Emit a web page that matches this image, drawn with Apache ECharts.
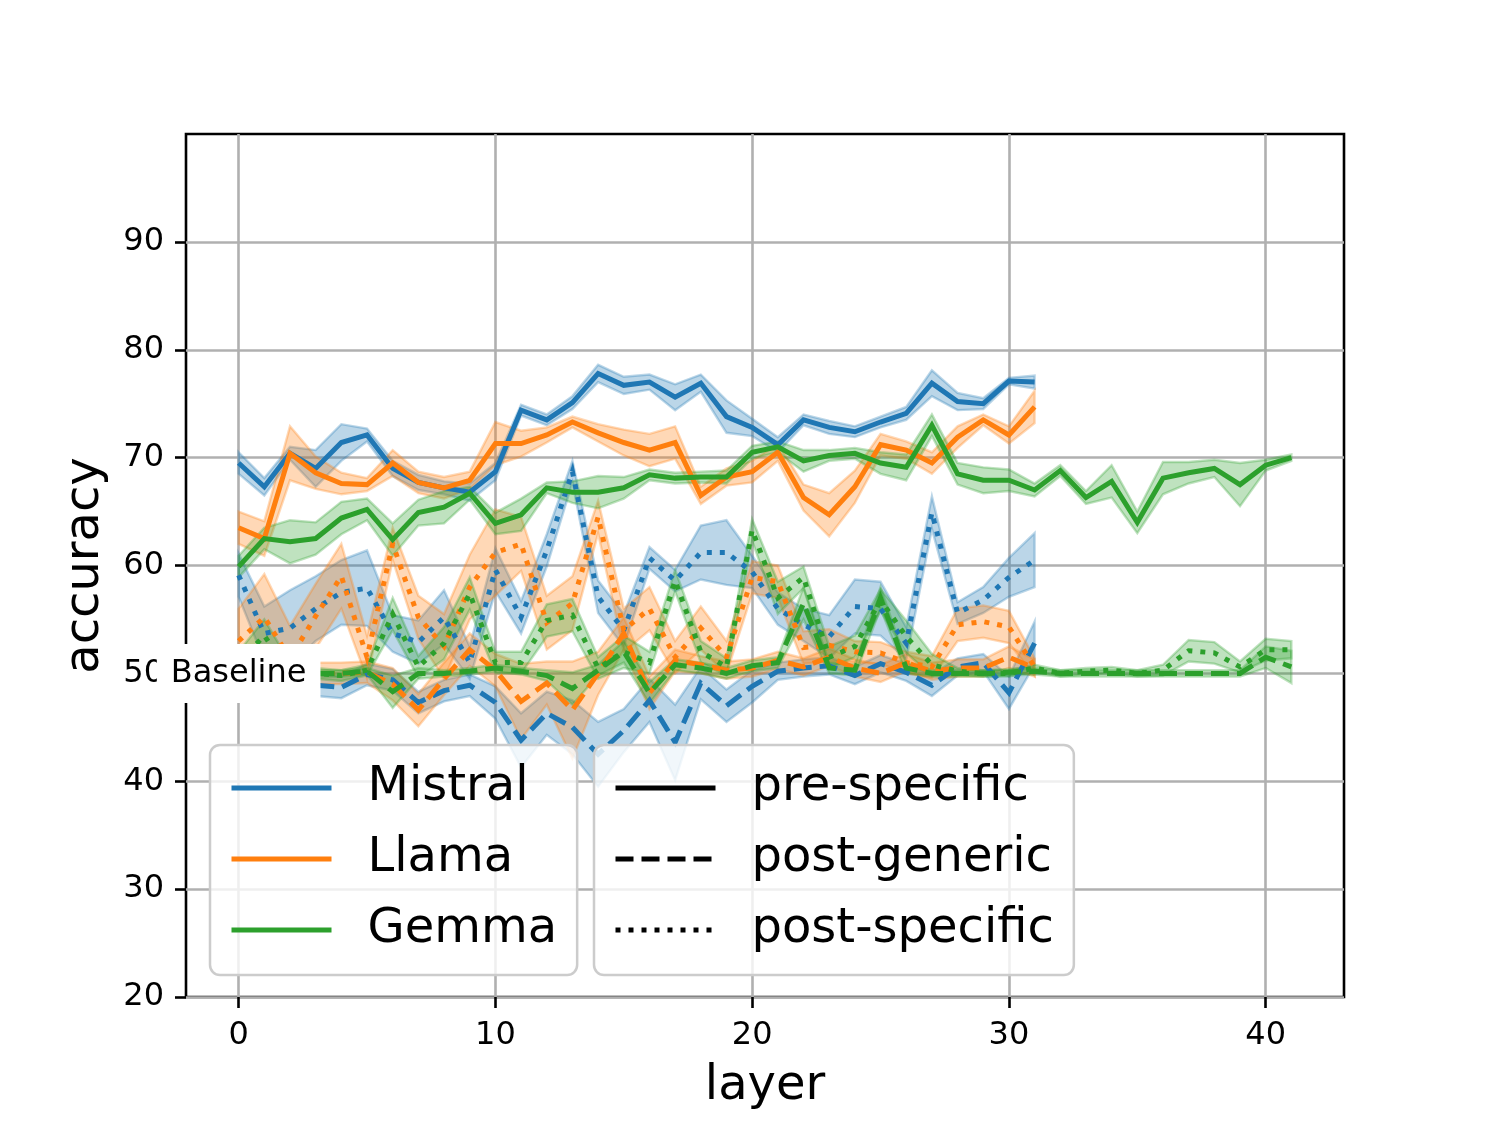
<!DOCTYPE html>
<html><head><meta charset="utf-8">
<script src="https://cdn.jsdelivr.net/npm/echarts@6/dist/echarts.min.js"></script>
<style>html,body{margin:0;padding:0;background:#fff}#c{width:1494px;height:1121px}</style>
</head><body><div id="c"></div>
<script>
// ---- data (accuracy per layer) ----
const xTicks = [0, 10, 20, 30, 40];
const yTicks = [20, 30, 40, 50, 60, 70, 80, 90];

const mistralPre = [69.5,67.3,70.4,69.0,71.4,72.1,69.0,67.7,67.2,66.8,68.7,74.4,73.5,75.1,77.8,76.7,77.0,75.6,76.9,73.8,72.8,71.2,73.5,72.8,72.4,73.3,74.1,76.9,75.2,75.0,77.1,77.0];
const mistralPreErr = [1.0,0.8,0.6,1.7,1.7,0.6,0.7,0.7,0.6,0.8,0.8,0.5,0.5,0.6,0.8,0.8,0.7,1.2,0.8,1.5,0.8,0.7,0.5,0.6,0.5,0.5,0.6,1.2,0.8,0.5,0.3,0.6];
const mistralPostGen = [49.5,49.2,49.0,48.9,48.7,49.9,49.4,47.3,48.4,48.9,47.3,43.8,46.3,45.0,42.5,44.7,47.5,43.6,49.1,47.0,48.8,50.2,50.5,50.7,49.8,50.9,50.1,48.9,50.6,51.0,48.2,52.8];
const mistralPostGenErr = [1.0,1.0,1.0,1.0,1.0,1.0,1.0,1.0,1.0,1.0,1.5,2.5,2.0,2.5,3.0,2.0,2.0,3.5,1.5,1.5,1.5,0.8,0.8,0.8,0.8,0.8,0.8,1.0,0.8,0.8,1.5,2.0];
const mistralPostSpec = [59.1,53.7,54.2,56.0,57.5,57.9,53.7,52.9,55.2,51.0,59.6,55.2,61.4,68.7,57.1,54.0,60.7,58.6,61.2,61.2,59.4,56.0,54.5,53.4,56.2,56.0,52.8,64.9,55.6,56.8,58.9,60.5];
const mistralPostSpecErr = [2.0,2.5,3.5,3.0,3.0,3.5,1.7,2.0,2.5,1.5,2.0,1.5,1.5,1.0,1.5,1.5,1.0,1.0,2.5,3.0,1.5,1.5,1.5,2.0,2.5,2.5,1.5,1.5,1.0,1.2,1.8,2.5];

const llamaPre = [63.5,62.5,70.4,68.6,67.6,67.5,69.5,67.7,67.2,67.9,71.3,71.3,72.1,73.3,72.3,71.4,70.7,71.4,66.5,68.2,68.7,70.5,66.3,64.7,67.3,71.2,70.7,69.5,71.9,73.5,72.1,74.7];
const llamaPreErr = [1.5,1.6,2.5,1.5,1.0,0.6,1.2,1.0,1.0,0.8,2.0,1.2,0.7,0.5,0.8,1.2,1.5,1.5,0.8,0.8,1.0,0.8,1.2,2.0,1.5,1.0,0.8,1.0,1.0,0.5,0.8,1.5];
const llamaPostGen = [50.0,50.0,50.0,50.0,50.0,50.1,49.0,46.6,49.5,52.2,50.3,47.4,49.1,46.6,50.0,53.7,48.2,51.2,50.8,50.3,50.5,51.2,50.6,51.5,50.5,50.0,51.0,50.2,50.5,50.5,51.5,50.5];
const llamaPostGenErr = [1.0,1.0,1.0,1.0,1.0,1.0,1.5,1.5,1.5,1.5,1.5,3.5,2.0,4.5,2.0,1.5,1.5,1.0,0.8,0.8,0.8,0.8,0.8,0.8,0.8,0.8,0.8,0.8,0.8,0.8,1.0,0.8];
const llamaPostSpec = [53.0,55.2,51.4,55.3,59.0,51.5,62.0,55.2,52.5,58.0,61.2,62.0,54.7,56.5,64.5,54.0,56.0,51.5,54.2,51.5,58.9,58.5,52.4,52.6,52.0,51.9,51.0,50.6,54.5,54.8,54.3,50.6];
const llamaPostSpecErr = [3.0,4.0,3.0,3.0,3.0,2.0,1.5,2.0,3.0,3.0,4.0,2.5,2.5,2.5,1.5,2.0,2.0,1.5,2.0,1.5,1.5,1.5,1.5,1.5,1.0,1.0,1.0,1.0,1.5,1.5,1.5,0.8];

const gemmaPre = [59.9,62.5,62.2,62.5,64.4,65.2,62.4,64.9,65.4,66.7,63.9,64.7,67.2,66.8,66.8,67.2,68.4,68.1,68.2,68.2,70.5,71.0,69.7,70.2,70.4,69.5,69.1,73.0,68.5,67.9,67.9,67.0,68.8,66.3,67.8,64.0,68.1,68.6,69.0,67.5,69.3,70.0];
const gemmaPreErr = [1.0,1.0,2.0,1.5,1.5,1.0,1.5,1.2,1.5,0.6,1.0,1.5,0.5,1.0,1.5,1.0,0.5,0.5,0.5,0.6,0.6,0.5,1.0,0.5,0.5,1.0,1.2,1.0,1.0,1.2,1.0,0.6,0.5,0.6,1.5,1.0,1.5,1.0,0.8,2.0,0.5,0.3];
const gemmaPostGen = [50.0,50.0,50.0,50.0,50.0,50.2,48.3,50.0,50.0,50.2,50.5,50.2,49.8,48.6,50.3,52.0,48.2,50.8,50.5,50.0,50.7,51.0,56.5,50.5,50.3,57.0,50.5,50.0,50.0,50.0,50.1,50.2,50.0,50.0,50.0,50.0,50.0,50.0,50.0,50.0,51.5,50.6];
const gemmaPostGenErr = [0.3,0.3,0.3,0.3,0.3,0.3,1.5,0.5,0.3,0.3,0.3,0.3,0.5,1.5,0.5,1.0,1.0,0.5,0.5,0.5,0.5,0.5,1.5,0.5,0.5,1.0,0.5,0.3,0.3,0.3,0.3,0.3,0.3,0.3,0.3,0.3,0.3,0.3,0.3,0.3,1.0,1.5];
const gemmaPostSpec = [51.0,53.5,50.0,50.0,49.8,50.3,55.5,50.6,52.8,57.4,51.0,51.0,54.9,55.4,50.5,52.0,51.0,58.6,52.0,50.6,63.3,57.0,58.9,51.5,52.5,56.8,53.4,50.8,50.2,50.0,50.0,50.5,50.0,50.2,50.3,50.0,50.3,52.1,51.9,50.6,52.2,52.2];
const gemmaPostSpecErr = [1.0,1.5,1.0,0.5,0.5,0.5,1.5,1.0,1.5,1.5,1.0,1.0,1.5,1.5,1.0,1.5,1.0,1.0,1.0,0.8,1.0,1.5,1.0,1.0,1.0,1.0,1.5,1.0,0.3,0.3,0.3,0.3,0.3,0.3,0.3,0.3,0.5,1.0,1.0,0.5,1.0,0.8];

const models = ['Mistral', 'Llama', 'Gemma'];
const kinds = ['pre-specific', 'post-generic', 'post-specific'];

// ---- styling ----
const FONT = 'DejaVu Sans';
const COLORS = { Mistral: '#1f77b4', Llama: '#ff7f0e', Gemma: '#2ca02c' };
const DASH = { 'pre-specific': 'solid', 'post-generic': [18, 8], 'post-specific': [5, 8] };
const LW = 5;

function rgba(hex, a) {
  const n = parseInt(hex.slice(1), 16);
  return 'rgba(' + ((n >> 16) & 255) + ',' + ((n >> 8) & 255) + ',' + (n & 255) + ',' + a + ')';
}

const series = [];
function addSeries(model, kind, vals, errs) {
  const col = COLORS[model];
  series.push({
    type: 'line', data: vals.map((v, i) => [i, v]), symbol: 'none', silent: true,
    lineStyle: { color: col, width: LW, type: DASH[kind], cap: 'butt', join: 'miter' }, z: 2
  });
  series.push({
    type: 'custom', silent: true, z: 2,
    data: vals.map((v, i) => [i, v - errs[i], v + errs[i]]),
    encode: { x: 0, y: [1, 2] },
    renderItem: function (params, api) {
      if (params.dataIndex !== 0) return null;
      const up = [], lo = [];
      for (let i = 0; i < vals.length; i++) {
        up.push(api.coord([i, vals[i] + errs[i]]));
        lo.push(api.coord([i, vals[i] - errs[i]]));
      }
      const pts = up.concat(lo.reverse());
      return { type: 'polygon', shape: { points: pts },
        style: { fill: rgba(col, 0.3), stroke: rgba(col, 0.3), lineWidth: 2.4, lineJoin: 'miter' } };
    }
  });
}
addSeries('Mistral', 'pre-specific', mistralPre, mistralPreErr);
addSeries('Mistral', 'post-generic', mistralPostGen, mistralPostGenErr);
addSeries('Mistral', 'post-specific', mistralPostSpec, mistralPostSpecErr);
addSeries('Llama', 'pre-specific', llamaPre, llamaPreErr);
addSeries('Llama', 'post-generic', llamaPostGen, llamaPostGenErr);
addSeries('Llama', 'post-specific', llamaPostSpec, llamaPostSpecErr);
addSeries('Gemma', 'pre-specific', gemmaPre, gemmaPreErr);
addSeries('Gemma', 'post-generic', gemmaPostGen, gemmaPostGenErr);
addSeries('Gemma', 'post-specific', gemmaPostSpec, gemmaPostSpecErr);

// legend-only series
models.forEach(m => series.push({ type: 'line', name: m, data: [], symbol: 'none', lineStyle: { color: COLORS[m], width: LW }, itemStyle: { color: COLORS[m] } }));
kinds.forEach(k => series.push({ type: 'line', name: k, data: [], symbol: 'none', lineStyle: { color: '#000', width: LW, type: DASH[k], cap: 'butt' }, itemStyle: { color: '#000' } }));

// Baseline annotation
series.push({
  type: 'scatter', data: [[0, 50]], symbolSize: 0, silent: true, z: 10,
  itemStyle: { opacity: 1 },
  label: { show: true, position: 'inside', formatter: 'Baseline', fontFamily: FONT, fontSize: 32, color: '#000000',
    textBorderWidth: 0, opacity: 1, backgroundColor: '#ffffff', padding: [14, 14, 13, 14] }
});

const legendCommon = {
  orient: 'vertical', top: 745, itemWidth: 100, itemHeight: 8, itemGap: 15,
  padding: [15, 20, 17, 19], backgroundColor: 'rgba(255,255,255,0.8)', borderColor: '#cccccc',
  borderWidth: 2.5, borderRadius: 10, selectedMode: false, z: 6,
  itemStyle: { opacity: 0 },
  lineStyle: { width: LW },
  textStyle: { fontFamily: FONT, fontSize: 48, color: '#000', lineHeight: 56, padding: [0, 0, 0, 31] }
};

const option = {
  animation: false,
  backgroundColor: '#ffffff',
  grid: { left: 186, right: 150, top: 134, bottom: 124, show: true, borderColor: '#000', borderWidth: 2.6, backgroundColor: 'transparent' },
  legend: [
    Object.assign({}, legendCommon, { left: 210, data: models }),
    Object.assign({}, legendCommon, { left: 594, data: kinds })
  ],
  xAxis: {
    type: 'value', min: -2.05, max: 43.05,
    name: 'layer', nameLocation: 'middle', nameGap: 66,
    nameTextStyle: { fontFamily: FONT, fontSize: 48, color: '#000' },
    axisLine: { show: false, onZero: false },
    axisTick: { show: true, length: 11, lineStyle: { color: '#000', width: 2.6 }, customValues: xTicks },
    axisLabel: { fontFamily: FONT, fontSize: 32, color: '#000', margin: 23, customValues: xTicks },
    splitLine: { show: true, lineStyle: { color: '#b0b0b0', width: 2.6 } }
  },
  yAxis: {
    type: 'value', min: 20, max: 100, interval: 10,
    name: 'accuracy', nameLocation: 'middle', nameGap: 76, nameRotate: 90,
    nameTextStyle: { fontFamily: FONT, fontSize: 48, color: '#000' },
    axisLine: { show: false, onZero: false },
    axisTick: { show: true, length: 11, lineStyle: { color: '#000', width: 2.6 }, customValues: yTicks },
    axisLabel: { fontFamily: FONT, fontSize: 32, color: '#000', margin: 22, customValues: yTicks },
    splitLine: { show: true, lineStyle: { color: '#b0b0b0', width: 2.6 } }
  },
  series: series
};

const chart = echarts.init(document.getElementById('c'), null, { renderer: 'canvas' });
chart.setOption(option);
</script>
</body></html>
